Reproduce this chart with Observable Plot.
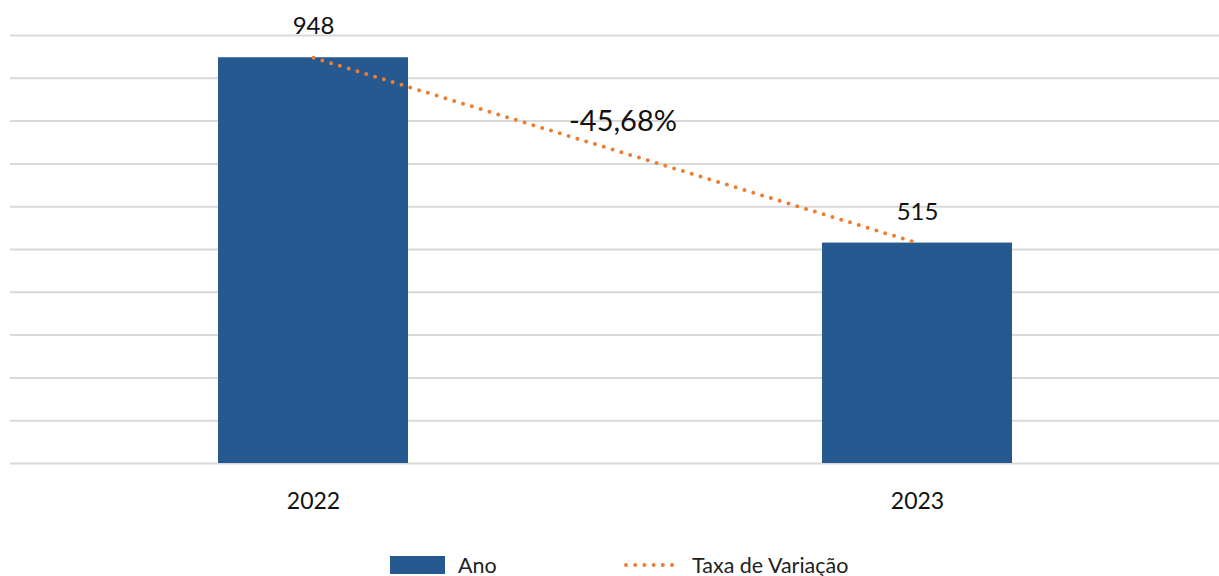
<!DOCTYPE html>
<html>
<head>
<meta charset="utf-8">
<script src="https://cdn.jsdelivr.net/npm/d3@7"></script>
<script src="https://cdn.jsdelivr.net/npm/@observablehq/plot@0.6"></script>
<style>
  html, body { margin: 0; padding: 0; background: #fff; }
  body { width: 1219px; height: 576px; overflow: hidden; font-family: Lato, "Open Sans", sans-serif; }
  #legend { position: relative; height: 46px; font-size: 21.5px; color: #222; }
  .item { position: absolute; top: 22px; display: flex; align-items: center; }
  .sw { width: 55px; height: 18px; background: #255990; margin-right: 13px; }
  .ln { width: 56px; height: 4px; margin-right: 12px; }
</style>
</head>
<body>
<div id="chart"></div>
<div id="legend">
  <div class="item" style="left:390px"><div class="sw"></div><span>Ano</span></div>
  <div class="item" style="left:624px"><svg class="ln" width="56" height="4"><line x1="2" y1="2" x2="56" y2="2" stroke="#ED7D31" stroke-width="4" stroke-linecap="round" stroke-dasharray="0 9.2"/></svg><span>Taxa de Variação</span></div>
</div>
<script>
const years = ["2022", "2023"];
const values = [948, 515];
const changeLabel = "-45,68%";
const gridTicks = d3.range(0, 1001, 100);

const data = years.map((y, i) => ({year: y, value: values[i]}));

const chart = Plot.plot({
  width: 1219,
  height: 530,
  marginLeft: 10,
  marginRight: 0,
  marginTop: 35,
  marginBottom: 67,
  style: {fontFamily: "Lato, 'Open Sans', sans-serif", background: "#fff"},
  x: {domain: years, paddingInner: 0.686, paddingOuter: 0.343, label: null},
  y: {domain: [0, 1000], axis: null},
  marks: [
    Plot.ruleY(gridTicks, {stroke: "#d9d9d9", strokeWidth: 2}),
    Plot.barY(data, {x: "year", y: "value", fill: "#255990"}),
    Plot.line(data, {x: "year", y: "value", stroke: "#ED7D31", strokeWidth: 4, strokeLinecap: "round", strokeDasharray: "0 9.2"}),
    Plot.text(data, {x: "year", y: "value", text: d => String(d.value), dy: -31, lineAnchor: "middle", fontSize: 24, fill: "#111"}),
    Plot.text([changeLabel], {frameAnchor: "middle", y: [(values[0] + values[1]) / 2], text: d => d, dx: 8, dy: -29, lineAnchor: "middle", fontSize: 29, fill: "#111"}),
    Plot.axisX({tickSize: 0, tickPadding: 29, fontSize: 23, fill: "#111", label: null})
  ]
});
document.getElementById("chart").appendChild(chart);
</script>
</body>
</html>
